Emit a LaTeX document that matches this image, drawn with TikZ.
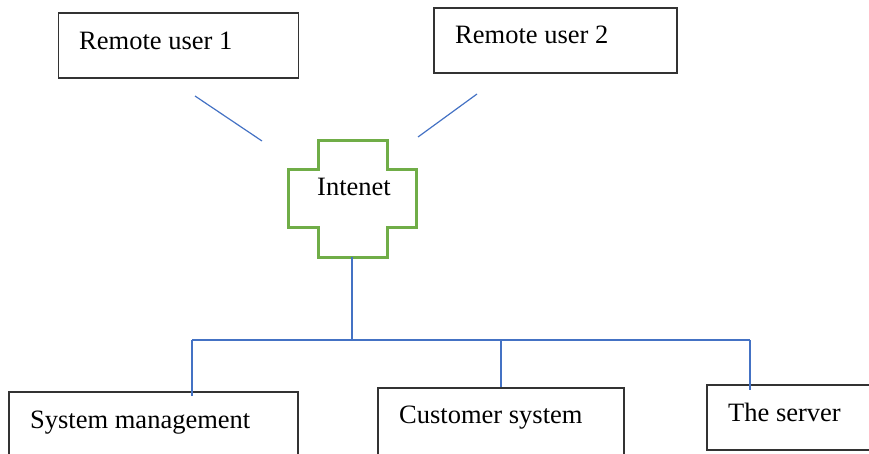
\documentclass[tikz,border=0pt]{standalone}
\usepackage{fontspec}
\setmainfont{Liberation Serif}
\begin{document}
\begin{tikzpicture}[x=1pt,y=-1pt,
  box/.style={draw=black!80,line width=1.5pt,inner sep=0pt},
  boxline/.style={draw=black!80,line width=1.5pt},
  lbl/.style={anchor=base west,inner sep=0pt,font=\fontsize{26.5}{30}\selectfont},
  link/.style={draw={rgb,255:red,68;green,114;blue,196},line width=1.2pt},
  crossline/.style={draw={rgb,255:red,112;green,173;blue,71},line width=3pt}]
\useasboundingbox (0,0) rectangle (869,454);
% boxes
\node[box,minimum width=240pt,minimum height=65pt] (u1) at (178.5,45.5) {};
\node[box,minimum width=243pt,minimum height=65pt] (u2) at (555.5,40.5) {};
\node[box,minimum width=289pt,minimum height=70pt] (sm) at (153.5,427) {};
\node[box,minimum width=246pt,minimum height=74pt] (cs) at (501,425) {};
\node[inner sep=0pt,minimum width=220pt,minimum height=65pt] (sv) at (817,417.5) {};
\draw[boxline] (sv.north east) -- (sv.north west) -- (sv.south west) -- (sv.south east);
% labels
\node[lbl] (t1) at (79,50) {Remote user 1};
\node[lbl] (t2) at (455,44) {Remote user 2};
\node[lbl] (t3) at (30,428) {System management};
\node[lbl] (t4) at (399,423) {Customer system};
\node[lbl] (t5) at (728,421) {The server};
% cross
\draw[crossline] (318,141) -- (387,141) -- (387,170) -- (416,170) -- (416,228) -- (387,228)
  -- (387,257) -- (318,257) -- (318,228) -- (288,228) -- (288,170) -- (318,170) -- cycle;
\node[lbl] (tn) at (317,196) {Intenet};
\coordinate (nb) at (352,257);
% connectors
\coordinate (a1) at (195,96);
\coordinate (a2) at (262,141);
\coordinate (b1) at (477,94);
\coordinate (b2) at (418,137);
\draw[link] (a1) -- (a2);
\draw[link] (b1) -- (b2);
\coordinate (hub) at (352,340);
\coordinate (hl) at (192,340);
\coordinate (hm) at (501,340);
\coordinate (hr) at (750,340);
\coordinate (dl) at (192,396);
\coordinate (dr) at (750,390);
\draw[link] (nb) -- (hub);
\draw[link] (hl) -- (hr);
\draw[link] (hl) -- (dl);
\draw[link] (hm) -- (cs.north);
\draw[link] (hr) -- (dr);
\end{tikzpicture}
\end{document}
